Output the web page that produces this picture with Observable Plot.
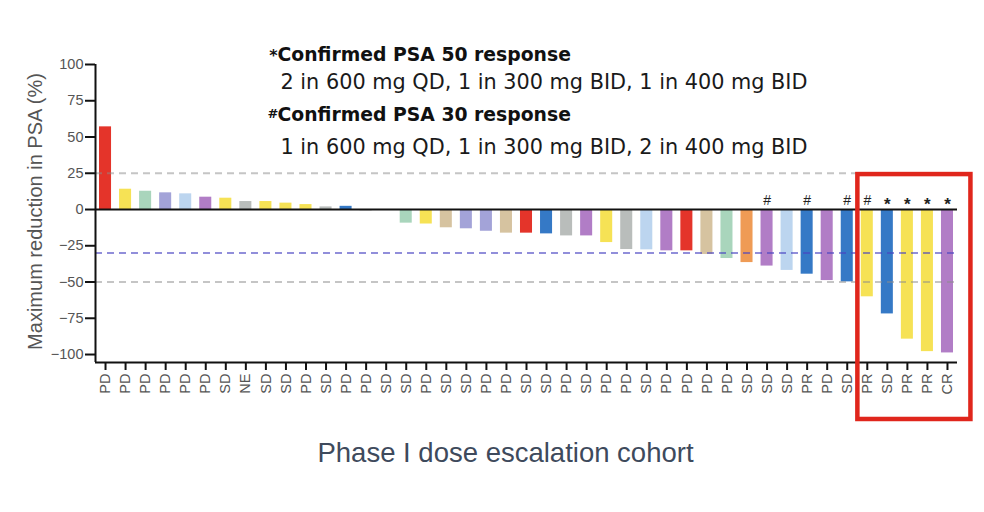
<!DOCTYPE html>
<html>
<head>
<meta charset="utf-8">
<script src="https://cdn.jsdelivr.net/npm/d3@7"></script>
<script src="https://cdn.jsdelivr.net/npm/@observablehq/plot@0.6"></script>
<style>
  html, body { margin: 0; padding: 0; background: #fff; }
  #chart { width: 984px; height: 512px; }
</style>
</head>
<body>
<div id="chart"></div>
<script>
// ---- Data ----
const responses = ["PD","PD","PD","PD","PD","PD","SD","NE","SD","SD","PD","SD","PD","PD","SD","SD","PD","SD","SD","PD","PD","SD","SD","PD","SD","PD","PD","SD","PD","PD","PD","PD","SD","SD","SD","PR","PD","SD","PR","SD","PR","PR","CR"];
const maxChange = [57, 14, 12.6, 11.5, 10.8, 8.5, 7.8, 5.5, 5.5, 4.4, 3.4, 1.8, 2.2, -0.8, 0,
  -9.4, -10, -12.6, -13.3, -15, -16.3, -16.3, -16.8, -18.2, -18.2, -22.8, -27.6, -27.8, -28.5, -28.5,
  -31, -33.8, -36.6, -39, -42, -44.6, -49, -49.9, -60.2, -72, -89.4, -98, -98.9];
const cohort = ["C1","C2","C3","C4","C5","C6","C2","C7","C2","C2","C2","C7","C8","C9","C7",
  "C3","C2","C10","C4","C4","C10","C1","C8","C7","C6","C2","C7","C5","C6","C1",
  "C10","C3","C11","C6","C5","C8","C6","C8","C2","C8","C2","C2","C6"];
const cohortIds = ["C1","C2","C3","C4","C5","C6","C7","C8","C9","C10","C11"];
const cohortColors = ["#e4342a","#f6e255","#a9d5bc","#a3a3d8","#bcd5ef","#b17dc6","#b9bdbb","#3579c6","#5a5a5a","#d6c3a0","#ef9b55"];
const psa30Idx = [33, 35, 37, 38];   // "#" confirmed PSA 30 response
const psa50Idx = [39, 40, 41, 42];   // "*" confirmed PSA 50 response
const yTicks = [100, 75, 50, 25, 0, -25, -50, -75, -100];
const grayRefs = [25, -50];
const blueRefs = [-30];
const yDomain = [-105.5, 100];
const highlightBox = {x1: 37.53, x2: 43.17, y1: -144.8, y2: 24.1};
const yTitle = "Maximum reduction in PSA (%)";
const xTitle = "Phase I dose escalation cohort";
const note50Head = "Confirmed PSA 50 response";
const note50Body = "2 in 600 mg QD, 1 in 300 mg BID, 1 in 400 mg BID";
const note30Head = "Confirmed PSA 30 response";
const note30Body = "1 in 600 mg QD, 1 in 300 mg BID, 2 in 400 mg BID";

const rows = maxChange.map((v, i) => ({i, change: v, resp: responses[i], cohort: cohort[i]}));
const idx = rows.map(d => d.i);

const noteFont = "'DejaVu Sans', sans-serif";

const chart = Plot.plot({
  width: 984,
  height: 512,
  marginLeft: 95,
  marginRight: 27,
  marginTop: 64,
  marginBottom: 150,
  x: {type: "linear", domain: [-0.5, rows.length - 0.5], axis: null},
  y: {domain: yDomain, axis: null},
  color: {domain: cohortIds, range: cohortColors},
  style: {fontFamily: "'Liberation Sans', Arial, sans-serif", background: "#fff", overflow: "visible"},
  marks: [
    Plot.rectY(rows, {x1: d => d.i - 0.3, x2: d => d.i + 0.3, y1: 0, y2: "change", fill: "cohort"}),
    Plot.ruleY(grayRefs, {stroke: "#8c8c8c", strokeOpacity: 0.5, strokeWidth: 2, strokeDasharray: "7,5"}),
    Plot.ruleY(blueRefs, {stroke: "#4843c2", strokeOpacity: 0.6, strokeWidth: 2, strokeDasharray: "7,5"}),
    Plot.ruleY([0], {stroke: "#111", strokeWidth: 2}),
    Plot.ruleX([-0.5], {stroke: "#111", strokeWidth: 2}),
    Plot.ruleY([yDomain[0]], {stroke: "#111", strokeWidth: 2}),
    Plot.axisY({ticks: yTicks, tickSize: 10, tickPadding: 2, stroke: "#111", strokeWidth: 2, fill: "#555", fontSize: 14.5, label: null}),
    Plot.axisX({ticks: idx, tickFormat: i => responses[i], tickRotate: -90, tickSize: 8, tickPadding: 3,
      stroke: "#111", strokeWidth: 2, fill: "#555", fontSize: 14.5, label: null}),
    Plot.text(psa30Idx, {x: d => d, y: 0, text: () => "#", dy: -5, lineAnchor: "bottom", fontSize: 14, fill: "#222"}),
    Plot.text(psa50Idx, {x: d => d, y: 0, text: () => "*", dy: 0, lineAnchor: "bottom", fontSize: 17, fontWeight: "bold", fill: "#222"}),
    Plot.text([yTitle], {frameAnchor: "left", rotate: -90, textAnchor: "middle", dx: -60, dy: -2, fontSize: 20, fill: "#555"}),
    Plot.text([xTitle], {frameAnchor: "bottom", textAnchor: "middle", lineAnchor: "bottom", dx: -21, dy: 99, fontSize: 27.5, fill: "#3e4a5c"}),
    // annotation block
    Plot.text(["*"], {frameAnchor: "top-left", textAnchor: "end", lineAnchor: "bottom", dx: 182, dy: -4, fontSize: 16, fontWeight: "bold", fill: "#111", fontFamily: noteFont}),
    Plot.text([note50Head], {frameAnchor: "top-left", textAnchor: "start", lineAnchor: "bottom", dx: 182, dy: -4, fontSize: 18.8, fontWeight: "bold", fill: "#111", fontFamily: noteFont}),
    Plot.text([note50Body], {frameAnchor: "top-left", textAnchor: "start", lineAnchor: "bottom", dx: 185, dy: 24, fontSize: 20.8, fill: "#1a1a1a", fontFamily: noteFont}),
    Plot.text(["#"], {frameAnchor: "top-left", textAnchor: "end", lineAnchor: "bottom", dx: 183, dy: 53, fontSize: 13, fontWeight: "bold", fill: "#111", fontFamily: noteFont}),
    Plot.text([note30Head], {frameAnchor: "top-left", textAnchor: "start", lineAnchor: "bottom", dx: 182, dy: 56, fontSize: 18.8, fontWeight: "bold", fill: "#111", fontFamily: noteFont}),
    Plot.text([note30Body], {frameAnchor: "top-left", textAnchor: "start", lineAnchor: "bottom", dx: 185, dy: 89, fontSize: 20.8, fill: "#1a1a1a", fontFamily: noteFont}),
    // highlight box
    Plot.rect([highlightBox], {x1: "x1", x2: "x2", y1: "y1", y2: "y2", fill: "none", stroke: "#e0261c", strokeWidth: 4.5})
  ]
});
document.getElementById("chart").appendChild(chart);
</script>
</body>
</html>
